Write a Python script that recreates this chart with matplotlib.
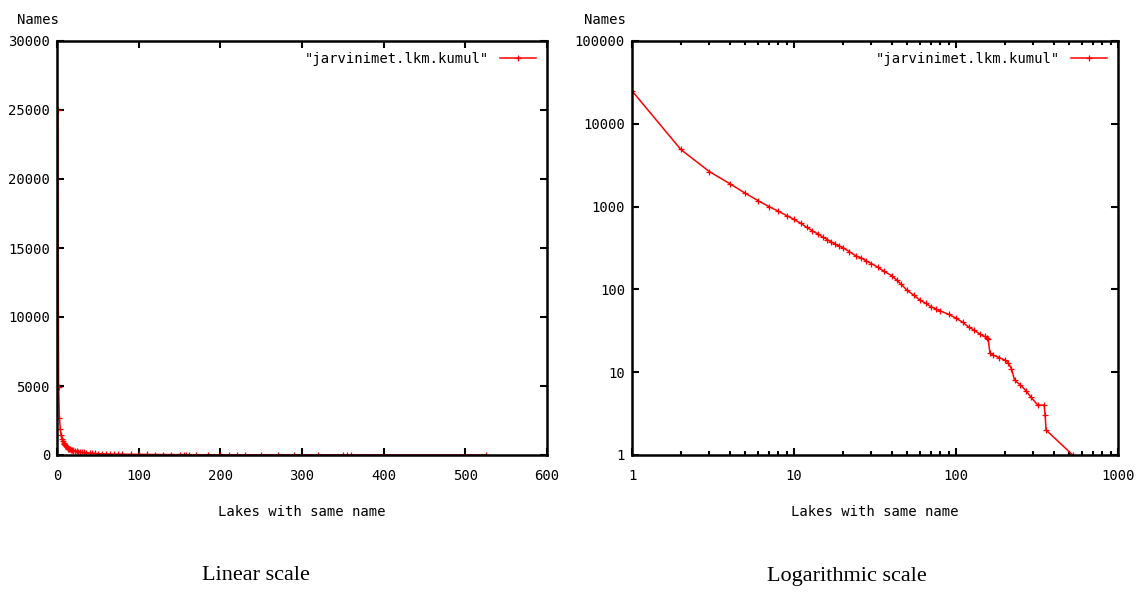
import matplotlib
matplotlib.use("Agg")
import matplotlib.pyplot as plt
from matplotlib.ticker import FixedLocator, LogLocator, NullFormatter, NullLocator, FuncFormatter

# cumulative count: number of names shared by at least k lakes
lakes = [1, 2, 3, 4, 5, 6, 7, 8, 9, 10, 11, 12, 13, 14, 15, 16, 17, 18, 19, 20,
         22, 24, 26, 28, 30, 33, 36, 40, 43, 46, 50, 55, 60, 65, 70, 75, 80, 90,
         100, 110, 120, 130, 140, 150, 155, 158, 162, 170, 185, 200, 210, 220,
         230, 250, 270, 290, 320, 350, 355, 360, 525]
names = [25000, 4900, 2650, 1900, 1450, 1180, 1000, 880, 780, 700, 630, 560, 510,
         470, 430, 400, 375, 350, 335, 320, 285, 255, 240, 220, 205, 185, 165,
         147, 130, 115, 97, 85, 74, 68, 62, 58, 55, 50, 45, 40, 35, 32, 29, 27,
         26, 25, 17, 16, 15, 14, 13, 11, 8, 7, 6, 5, 4, 4, 3, 2, 1]

legend_label = '"jarvinimet.lkm.kumul"'
mono = "DejaVu Sans Mono"

fig = plt.figure(figsize=(11.36, 5.94), dpi=100)
ax1 = fig.add_axes([57/1136, 139/594, 490/1136, 414/594])
ax2 = fig.add_axes([632/1136, 139/594, 486/1136, 414/594])

for ax in (ax1, ax2):
    ax.plot(lakes, names, color="red", lw=1.1, marker="+", ms=4.5, mew=0.9,
            label=legend_label)
    for s in ax.spines.values():
        s.set_linewidth(1.8)
    ax.tick_params(which="both", direction="in", top=True, right=True,
                   labelsize=10, width=1.5)
    ax.tick_params(which="major", length=5)
    ax.tick_params(which="minor", length=3)
    ax.tick_params(axis="x", pad=10)
    ax.tick_params(axis="y", pad=5)
    ax.set_xlabel("Lakes with same name", family=mono, fontsize=10, labelpad=16)
    ax.legend(loc="upper right", frameon=False, markerfirst=False,
              prop={"family": mono, "size": 10}, handlelength=2.6,
              borderaxespad=0.4)

# linear axes
ax1.set_xlim(0, 600)
ax1.set_ylim(0, 30000)
ax1.xaxis.set_major_locator(FixedLocator(range(0, 601, 100)))
ax1.yaxis.set_major_locator(FixedLocator(range(0, 30001, 5000)))

# log axes
ax2.set_xscale("log")
ax2.set_yscale("log")
ax2.set_xlim(1, 1000)
ax2.set_ylim(1, 100000)
plain = FuncFormatter(lambda v, p: f"{v:.0f}")
ax2.xaxis.set_major_locator(LogLocator(base=10, numticks=10))
ax2.xaxis.set_minor_locator(LogLocator(base=10, subs=range(2, 10), numticks=10))
ax2.xaxis.set_major_formatter(plain)
ax2.xaxis.set_minor_formatter(NullFormatter())
ax2.yaxis.set_major_locator(LogLocator(base=10, numticks=10))
ax2.yaxis.set_minor_locator(NullLocator())
ax2.yaxis.set_major_formatter(plain)

for ax in (ax1, ax2):
    for lab in ax.get_xticklabels() + ax.get_yticklabels():
        lab.set_family(mono)
        lab.set_fontsize(10)

fig.text(38/1136, 1 - 20/594, "Names", family=mono, fontsize=10, ha="center", va="center")
fig.text(605/1136, 1 - 20/594, "Names", family=mono, fontsize=10, ha="center", va="center")

fig.text(256/1136, 1 - 576/594, "Linear scale", family="Liberation Serif",
         fontsize=16, ha="center", va="center")
fig.text(847/1136, 1 - 576/594, "Logarithmic scale", family="Liberation Serif",
         fontsize=16, ha="center", va="center")

fig.savefig("out.png", dpi=100, facecolor="white")
